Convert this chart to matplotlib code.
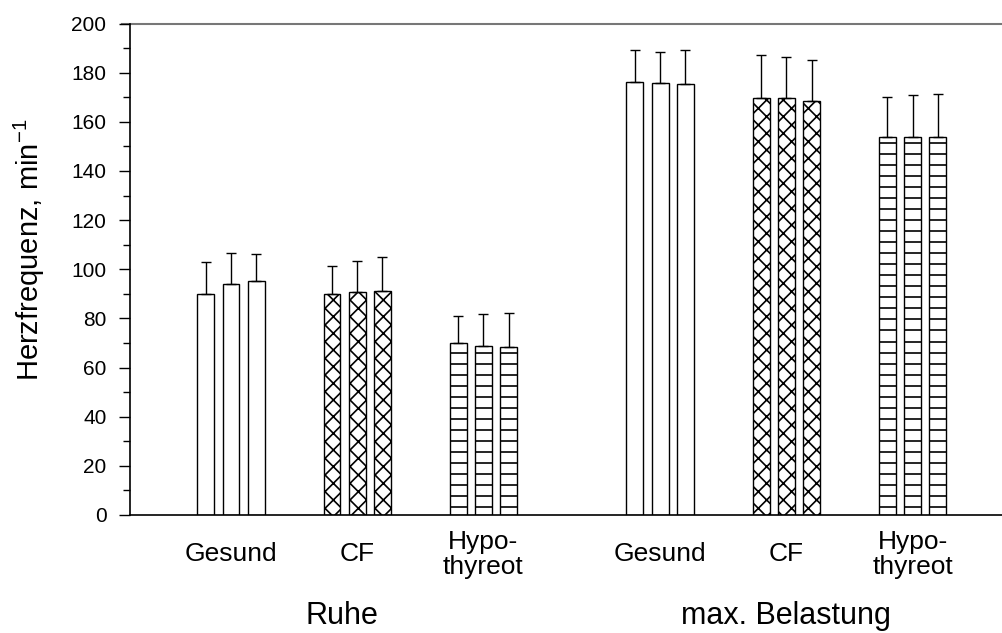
import numpy as np
import matplotlib
matplotlib.use("Agg")
import matplotlib.pyplot as plt
from matplotlib.transforms import blended_transform_factory

plt.rcParams['font.family'] = ['Liberation Sans', 'DejaVu Sans']
plt.rcParams['hatch.color'] = 'black'
plt.rcParams['hatch.linewidth'] = 1.2

# Herzfrequenz (Mittelwert und obere SD) je Gruppe, drei Messungen pro Gruppe
groups = ['Gesund', 'CF', 'Hypo-\nthyreot', 'Gesund', 'CF', 'Hypo-\nthyreot']
conditions = ['Ruhe', 'max. Belastung']

ruhe_gesund = [90.1, 93.8, 95.2]
ruhe_gesund_sd = [12.9, 12.7, 10.9]
ruhe_cf = [90.1, 90.8, 91.3]
ruhe_cf_sd = [11.4, 12.6, 13.7]
ruhe_hypo = [69.8, 68.7, 68.4]
ruhe_hypo_sd = [11.2, 13.1, 13.7]

max_gesund = [176.0, 175.7, 175.5]
max_gesund_sd = [13.2, 12.6, 13.7]
max_cf = [169.5, 169.6, 168.6]
max_cf_sd = [17.5, 16.6, 16.4]
max_hypo = [153.7, 153.9, 153.8]
max_hypo_sd = [16.5, 17.0, 17.5]

means = [ruhe_gesund, ruhe_cf, ruhe_hypo, max_gesund, max_cf, max_hypo]
sds = [ruhe_gesund_sd, ruhe_cf_sd, ruhe_hypo_sd, max_gesund_sd, max_cf_sd, max_hypo_sd]
styles = ['plain', 'cross', 'lines', 'plain', 'cross', 'lines']

group_pos = np.array([4, 9, 14, 21, 26, 31])
condition_pos = [8.4, 26.0]
offsets = np.array([-1, 0, 1])
width = 0.67

fig = plt.figure(figsize=(10.02, 6.33), dpi=100)
ax = fig.add_axes([130 / 1002, 1 - 515 / 633, 872 / 1002, 491.5 / 633])

for pos, m, sd, st in zip(group_pos, means, sds, styles):
    x = pos + offsets
    hatch = 'xx' if st == 'cross' else None
    bars = ax.bar(x, m, width=width, color='white', edgecolor='black',
                  linewidth=1.0, hatch=hatch, zorder=2)
    ax.errorbar(x, m, yerr=[np.zeros(3), sd], fmt='none', ecolor='black',
                elinewidth=1.0, capsize=3.6, capthick=1.0, zorder=3)
    if st == 'lines':
        # horizontal hatching, 11 px apart
        levels = np.arange(3.4, 200, 4.48)
        for b in bars:
            ax.hlines(levels, b.get_x(), b.get_x() + b.get_width(),
                      colors='black', linewidth=1.2, clip_path=b, zorder=2.5)

ax.set_xlim(0, 34.54)
ax.set_ylim(0, 200)
ax.set_yticks(np.arange(0, 201, 20))
ax.set_yticks(np.arange(10, 200, 20), minor=True)
ax.tick_params(axis='y', which='major', direction='out', length=8, width=1,
               labelsize=15, pad=9)
ax.tick_params(axis='y', which='minor', direction='out', length=5, width=1)
ax.set_xticks([])

ax.spines['top'].set_visible(False)
ax.spines['right'].set_visible(False)
ax.spines['left'].set_linewidth(1.2)
ax.spines['bottom'].set_linewidth(1.2)
ax.axhline(200, xmin=-8 / 872, xmax=1, color='#777777', linewidth=1.5,
           clip_on=False, zorder=1)

fig.text(29 / 1002, 1 - 250 / 633, 'Herzfrequenz, min$^{\\mathregular{-1}}$',
         rotation=90, ha='center', va='center', fontsize=21)

trans = blended_transform_factory(ax.transData, ax.transAxes)
for pos, label in zip(group_pos, groups):
    ax.text(pos, -0.080, label, transform=trans, ha='center', va='center',
            fontsize=19, linespacing=1.05)
for pos, label in zip(condition_pos, conditions):
    ax.text(pos, -0.222, label, transform=trans, ha='center', va='baseline',
            fontsize=22)

fig.savefig('out.png', dpi=100)
